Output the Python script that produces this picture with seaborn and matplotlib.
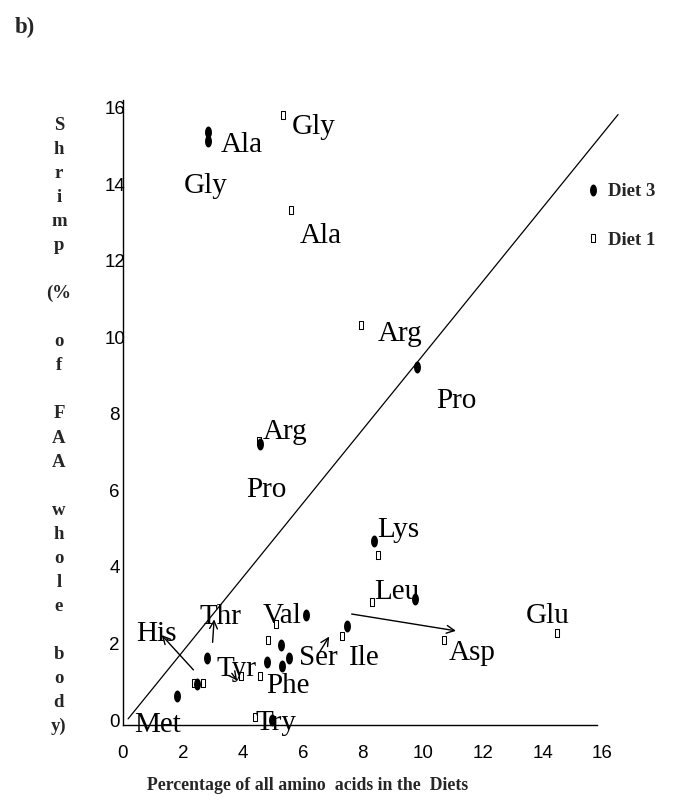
import numpy as np
import pandas as pd
import matplotlib
matplotlib.use("Agg")
import matplotlib.pyplot as plt
from matplotlib.lines import Line2D
import seaborn as sns

# Share of each amino acid in the diet (x) vs. share in shrimp whole-body FAA (y)
diet3_x = [2.84, 2.84, 4.58, 9.80, 8.36, 9.73, 7.46, 6.09, 5.28, 5.55, 4.82, 5.32, 2.81, 2.46, 1.79, 4.96]
diet3_y = [15.37, 15.14, 7.22, 9.23, 4.68, 3.16, 2.46, 2.75, 1.96, 1.62, 1.52, 1.41, 1.61, 0.93, 0.63, 0.0]

diet1_x = [4.55, 5.34, 5.60, 7.93, 8.50, 8.30, 10.72, 14.47, 7.32, 5.11, 4.85, 4.57, 3.93, 2.66, 2.37, 4.40]
diet1_y = [7.28, 15.82, 13.33, 10.31, 4.31, 3.08, 2.09, 2.27, 2.20, 2.50, 2.09, 1.15, 1.15, 0.96, 0.96, 0.09]

# Reference line
ref_x = [0.17, 16.52]
ref_y = [0.03, 15.82]

x_ticks = [0, 2, 4, 6, 8, 10, 12, 14, 16]
y_ticks = [0, 2, 4, 6, 8, 10, 12, 14, 16]

amino_labels = ["Ala", "Gly", "Gly", "Ala", "Arg", "Pro", "Arg", "Pro", "Lys", "Leu",
                "Glu", "Asp", "Ile", "Ser", "Val", "Thr", "His", "Tyr", "Phe", "Try", "Met"]
# label anchor (centre x, baseline y) in data units
label_pos = [(3.95, 14.85), (2.75, 13.78), (6.36, 15.32), (6.61, 12.47), (9.24, 9.91),
             (11.11, 8.16), (5.42, 7.35), (4.79, 5.83), (9.18, 4.78), (9.13, 3.16),
             (14.18, 2.54), (11.66, 1.57), (8.04, 1.44), (6.52, 1.44), (5.31, 2.54),
             (3.24, 2.51), (1.10, 2.07), (3.80, 1.15), (5.52, 0.71), (5.11, -0.26),
             (1.15, -0.31)]

# pointer arrows (tail -> head)
arrows = [((2.35, 1.31), (1.29, 2.22)),
          ((2.99, 2.03), (3.04, 2.63)),
          ((3.63, 1.22), (3.81, 1.03)),
          ((6.57, 1.79), (6.88, 2.18)),
          ((7.63, 2.77), (11.11, 2.33))]

df3 = pd.DataFrame({"diet": diet3_x, "body": diet3_y})
df1 = pd.DataFrame({"diet": diet1_x, "body": diet1_y})

sns.set_style("white")
serif = ["Liberation Serif", "DejaVu Serif"]
sans = ["Liberation Sans", "DejaVu Sans"]

t = np.linspace(0, 2 * np.pi, 40)
ellipse = np.column_stack([0.58 * np.cos(t), np.sin(t)])
rect = np.array([(-0.56, -1), (0.56, -1), (0.56, 1), (-0.56, 1), (-0.56, -1)])

fig = plt.figure(figsize=(6.73, 8.05), dpi=100)
ax = fig.add_axes([123 / 673, 80 / 805, 479.5 / 673, 625 / 805])

sns.lineplot(x=ref_x, y=ref_y, ax=ax, color="black", lw=0.9, clip_on=False, zorder=2)
sns.scatterplot(data=df1, x="diet", y="body", ax=ax, marker=rect, s=28,
                facecolor="white", edgecolor="black", linewidth=0.75, zorder=3, clip_on=False)
sns.scatterplot(data=df3, x="diet", y="body", ax=ax, marker=ellipse, s=74,
                color="black", edgecolor="black", linewidth=0, zorder=4, clip_on=False)

for name, (lx, ly) in zip(amino_labels, label_pos):
    ax.text(lx, ly, name, ha="center", va="baseline", fontsize=21,
            family=serif, color="black", clip_on=False, zorder=5)

for tail, head in arrows:
    ax.annotate("", xy=head, xytext=tail,
                arrowprops=dict(arrowstyle="->", lw=1.0, color="black",
                                shrinkA=0, shrinkB=0, mutation_scale=14),
                annotation_clip=False, zorder=5)

ax.set_xlim(0, 16)
ax.set_ylim(-0.13, 16.2)
ax.set_xticks(x_ticks)
ax.set_yticks(y_ticks)
ax.set_xticklabels([str(v) for v in x_ticks], family=sans, fontsize=13.5, color="black")
ax.set_yticklabels([str(v) for v in y_ticks], family=sans, fontsize=13.5, ha="center", color="black")
ax.tick_params(axis="x", length=0, pad=14.5)
ax.tick_params(axis="y", length=0, pad=6)
ax.set_xlabel("")
ax.set_ylabel("")
for side in ["top", "right"]:
    ax.spines[side].set_visible(False)
for side in ["left", "bottom"]:
    ax.spines[side].set_color("black")
    ax.spines[side].set_linewidth(1.0)
ax.spines["bottom"].set_bounds(0, 15.83)

handles = [Line2D([], [], ls="none", marker=ellipse, color="black", markersize=8.6, markeredgewidth=0),
           Line2D([], [], ls="none", marker=rect, markerfacecolor="white",
                  markeredgecolor="black", markersize=5.3, markeredgewidth=0.75)]
leg = fig.legend(handles, ["Diet 3", "Diet 1"], loc="upper left",
                 bbox_to_anchor=(587.4 / 673, 1 - 183 / 805), frameon=False,
                 handlelength=0.6, handletextpad=0.5, labelspacing=1.68, borderpad=0,
                 borderaxespad=0, prop=dict(family=serif, weight="bold", size=13.5))

# axis titles
fig.text(308 / 673, 1 - 785 / 805, "Percentage of all amino  acids in the  Diets",
         ha="center", va="center", family=serif, weight="bold", fontsize=12.8)

ylabel_lines = ["S", "h", "r", "i", "m", "p", "", "(%", "", "o", "f", "", "F", "A", "A", "",
                "w", "h", "o", "l", "e", "", "b", "o", "d", "y)"]
for i, ch in enumerate(ylabel_lines):
    if ch:
        fig.text(59 / 673, 1 - (130 + 24.04 * i) / 805, ch, ha="center", va="baseline",
                 family=serif, weight="bold", fontsize=13.5)

fig.text(15 / 673, 1 - 33 / 805, "b)", ha="left", va="baseline",
         family=serif, weight="bold", fontsize=16.5)

fig.savefig("out.png", dpi=100)
